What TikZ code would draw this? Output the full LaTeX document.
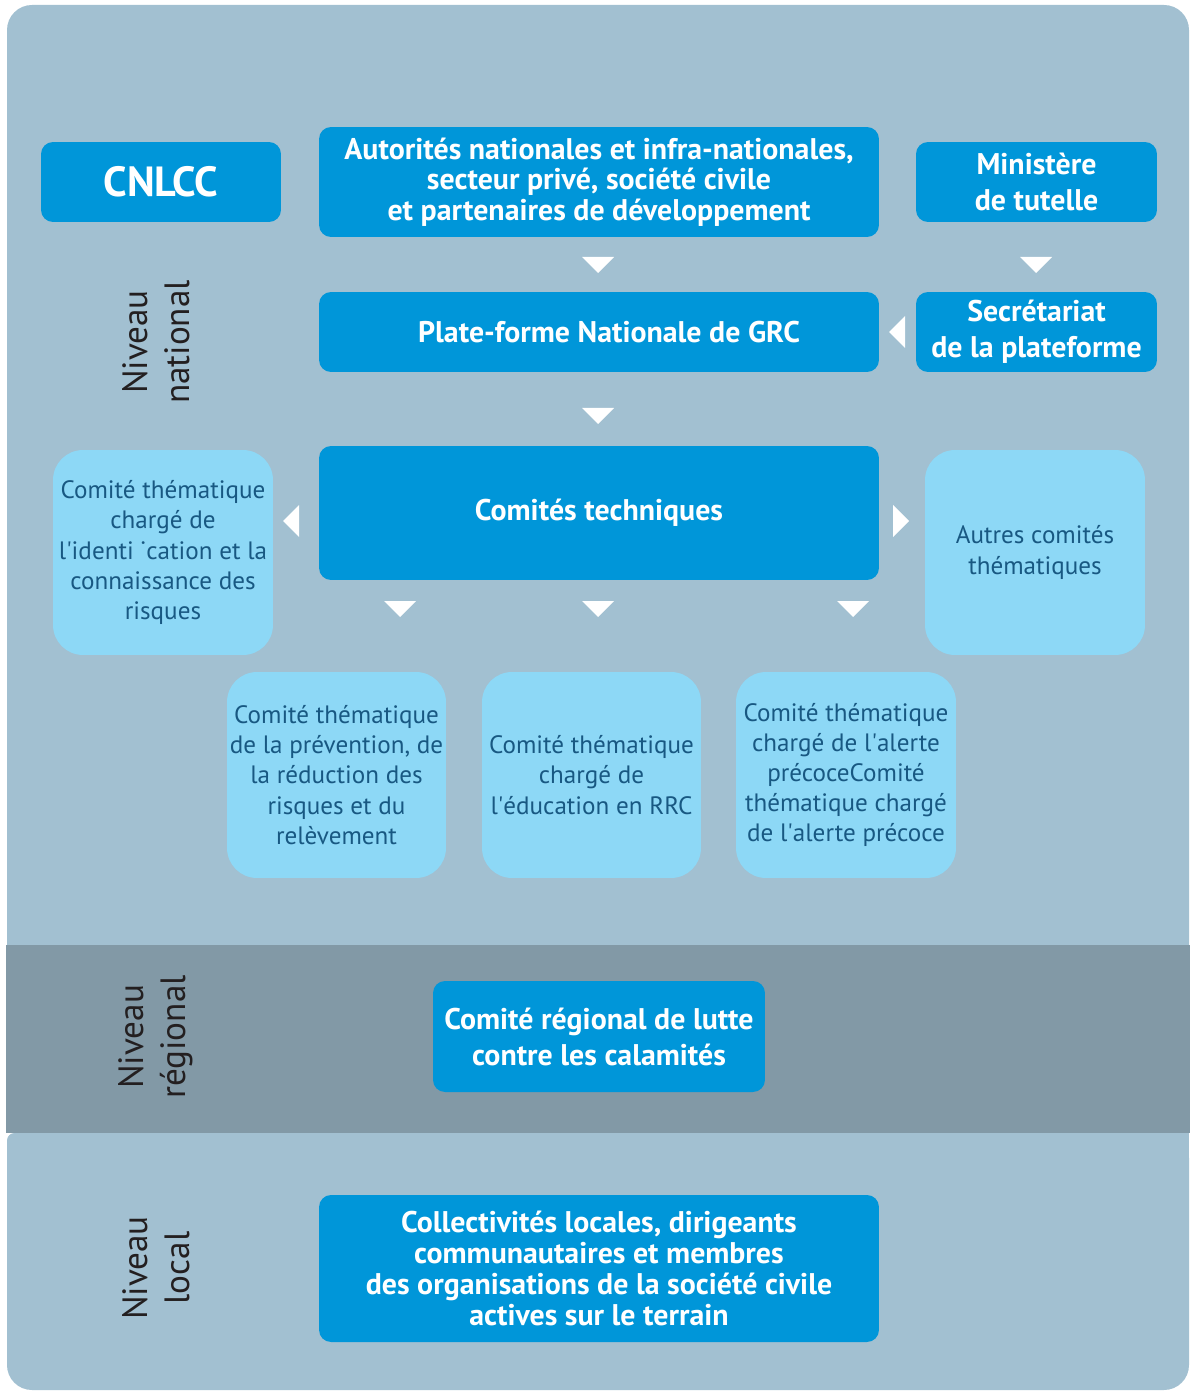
\documentclass[tikz,border=0pt]{standalone}
\usepackage{fontspec}
\setmainfont{PT Sans}
\usetikzlibrary{positioning, calc}
\definecolor{PanelBlue}{RGB}{162, 192, 209}
\definecolor{RegionGrey}{RGB}{130, 153, 166}
\definecolor{BoxBlue}{RGB}{0, 150, 217}
\definecolor{PaleBlue}{RGB}{141, 216, 246}
\definecolor{PaleText}{RGB}{24, 88, 130}
\definecolor{LabelGrey}{RGB}{35, 31, 32}

\tikzset{
  mainbox/.style={fill=BoxBlue, rounded corners=0.24cm, text=white, align=center,
                  font=\bfseries\fontsize{17}{17.5}\selectfont, inner sep=0pt},
  palebox/.style={fill=PaleBlue, rounded corners=0.6cm, text=PaleText, align=center,
                  minimum width=4.4cm, minimum height=4.1cm, inner sep=0pt,
                  font=\fontsize{14.3}{17.2}\selectfont},
  levellabel/.style={rotate=90, align=center, text=LabelGrey,
                     font=\fontsize{20}{24}\selectfont}
}
\newcommand{\apos}{\textquotesingle}

\begin{document}
\begin{tikzpicture}[x=0.02cm, y=-0.02cm]
            % Page frame
            \path[use as bounding box] (0,0) rectangle (1190,1391);

            % Background bands: national, regional, local
            \fill[PanelBlue, rounded corners=0.5cm] (7,5) rectangle (1189,980);
            \fill[RegionGrey] (6,945) rectangle (1190,1133);
            \fill[PanelBlue, rounded corners=0.5cm] (7,1133) rectangle (1189,1390);
            \fill[PanelBlue, rounded corners=0.15cm] (7,1133) rectangle (60,1180);
            \fill[PanelBlue] (30,1133) rectangle (1189,1180);

            % Level labels
            \node[levellabel] (lvlnat) at (156,342) {Niveau\\national};
            \node[levellabel] (lvlreg) at (156,1037) {Niveau\\régional};
            \node[levellabel] (lvlloc) at (156,1268) {Niveau\\local};

            % National level, first row
            \node[mainbox, minimum width=4.8cm, minimum height=1.6cm,
                  font=\bfseries\fontsize{24}{24}\selectfont] (cnlcc) at (161,182) {CNLCC};
            \node[mainbox, minimum width=11.2cm, minimum height=2.2cm] (actors) at (599,182)
                  {Autorités nationales et infra-nationales,\\secteur privé, société civile\\et partenaires de développement};
            \node[mainbox, minimum width=4.82cm, minimum height=1.6cm,
                  font=\bfseries\fontsize{17}{20.5}\selectfont] (ministry) at (1036.5,182) {Ministère\\de tutelle};

            % Platform and secretariat
            \node[mainbox, minimum width=11.2cm, minimum height=1.6cm] (platform) at (599,332)
                  {\hspace*{0.4cm}Plate-forme Nationale de GRC};
            \node[mainbox, minimum width=4.82cm, minimum height=1.6cm,
                  font=\bfseries\fontsize{17}{20.5}\selectfont] (secretariat) at (1036.5,332)
                  {Secrétariat\\de la plateforme};

            % Technical committees
            \node[mainbox, minimum width=11.2cm, minimum height=2.68cm] (techcom) at (599,513)
                  {Comités techniques};
            \node[palebox] (riskcom) at (163,552.5)
                  {Comité thématique\\chargé de\\l\apos identi ˙cation et la\\connaissance des\\risques};
            \node[palebox] (othercom) at (1035,552.5) {Autres comités\\thématiques};
            \node[palebox, minimum width=4.38cm, minimum height=4.12cm] (prevcom) at (336.5,775)
                  {Comité thématique\\de la prévention, de\\la réduction des\\risques et du\\relèvement};
            \node[palebox, minimum width=4.38cm, minimum height=4.12cm] (educom) at (591.5,775)
                  {Comité thématique\\chargé de\\l\apos éducation en RRC};
            \node[palebox, minimum width=4.4cm, minimum height=4.12cm] (alertcom) at (846,775)
                  {Comité thématique\\chargé de l\apos alerte\\précoceComité\\thématique chargé\\de l\apos alerte précoce};

            % Regional and local levels
            \node[mainbox, minimum width=6.64cm, minimum height=2.22cm,
                  font=\bfseries\fontsize{17}{20.5}\selectfont] (regional) at (599,1036.5)
                  {Comité régional de lutte\\contre les calamités};
            \node[mainbox, minimum width=11.2cm, minimum height=2.94cm] (local) at (599,1268.5)
                  {Collectivités locales, dirigeants\\communautaires et membres\\des organisations de la société civile\\actives sur le terrain};

            % White tips pointing down
            \foreach \x/\y in {598/257, 1036/257, 598/408, 400/601, 598/601, 853/601} {
                \fill[white] (\x-16,\y) -- (\x+16,\y) -- (\x,\y+16) -- cycle;
            }
            % White tips pointing sideways
            \fill[white] (905,316) -- (905,348) -- (889,332) -- cycle;
            \fill[white] (299,505) -- (299,537) -- (283,521) -- cycle;
            \fill[white] (893,505) -- (893,537) -- (909,521) -- cycle;
        \end{tikzpicture}
\end{document}
